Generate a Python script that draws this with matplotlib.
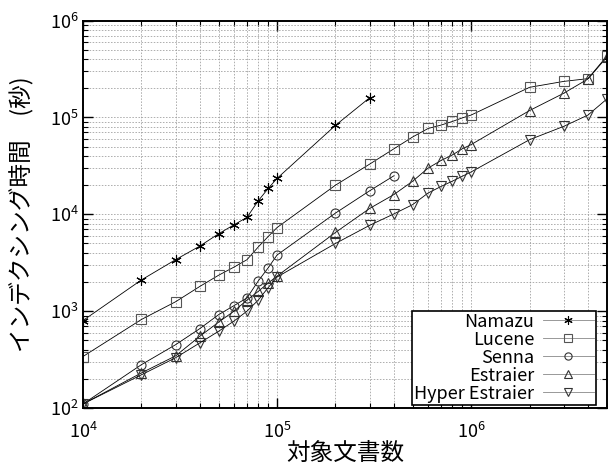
import matplotlib
matplotlib.use("Agg")
import matplotlib.pyplot as plt
import matplotlib.ticker as mticker
import numpy as np

plt.rcParams['font.family'] = ['Noto Sans CJK JP', 'DejaVu Sans']
plt.rcParams['mathtext.fontset'] = 'custom'
plt.rcParams['mathtext.rm'] = 'Noto Sans CJK JP'
plt.rcParams['mathtext.it'] = 'Noto Sans CJK JP'

# === DATA ===
x_small = [1e4, 2e4, 3e4, 4e4, 5e4, 6e4, 7e4, 8e4, 9e4, 1e5]
x_mid = [2e5, 3e5, 4e5, 5e5, 6e5, 7e5, 8e5, 9e5, 1e6]
x_big = [2e6, 3e6, 4e6, 5e6]

namazu_x = x_small + [2e5, 3e5]
namazu_y = [800, 2100, 3400, 4700, 6300, 7800, 9300, 13800, 18500, 23500,
            83000, 160000]

lucene_x = x_small + x_mid + x_big
lucene_y = [340, 820, 1250, 1800, 2350, 2850, 3400, 4600, 5900, 7300,
            20000, 33000, 47500, 63000, 77000, 83500, 91000, 99000, 106000,
            205000, 236000, 252000, 430000]

senna_x = x_small + [2e5, 3e5, 4e5]
senna_y = [110, 280, 450, 660, 920, 1140, 1370, 2050, 2800, 3800,
           10300, 17500, 25000]

estraier_x = x_small + x_mid + x_big
estraier_y = [110, 230, 345, 550, 770, 1000, 1300, 1600, 1950, 2300,
              6500, 11500, 16000, 22000, 30000, 36000, 41000, 47500, 52500,
              118000, 178000, 250000, 420000]

hyper_x = x_small + x_mid + x_big
hyper_y = [110, 220, 330, 470, 620, 790, 1000, 1300, 1750, 2250,
           5000, 7700, 10100, 12600, 16600, 19400, 22000, 24700, 27400,
           59000, 81000, 106000, 155000]

labels = ["Namazu", "Lucene", "Senna", "Estraier", "Hyper Estraier"]
xlabel = "対象文書数"
ylabel = "インデクシング時間　(秒)"

# === FIGURE ===
fig = plt.figure(figsize=(6.08, 4.70), dpi=100)
ax = fig.add_axes([0.1365, 0.132, 0.8615, 0.824])

series = [
    (namazu_x, namazu_y, (6, 2, 0), "black", 7.5),
    (lucene_x, lucene_y, "s", "#555555", 6.5),
    (senna_x, senna_y, "o", "#333333", 6.5),
    (estraier_x, estraier_y, "^", "#333333", 7),
    (hyper_x, hyper_y, "v", "#333333", 7),
]
for (xs, ys, mk, mc, ms), lab in zip(series, labels):
    ax.plot(xs, ys, color="black", lw=0.6, marker=mk, ms=ms,
            mfc="none", mec=mc, mew=0.8, label=lab)

ax.set_xscale("log")
ax.set_yscale("log")
ax.set_xlim(1e4, 5e6)
ax.set_ylim(1e2, 1e6)

ax.xaxis.set_major_locator(mticker.FixedLocator([1e4, 1e5, 1e6]))
ax.xaxis.set_major_formatter(mticker.FixedFormatter(["$10^{4}$", "$10^{5}$", "$10^{6}$"]))
ax.xaxis.set_minor_locator(mticker.LogLocator(base=10, subs=np.arange(2, 10)))
ax.xaxis.set_minor_formatter(mticker.NullFormatter())
ax.yaxis.set_major_locator(mticker.FixedLocator([1e2, 1e3, 1e4, 1e5, 1e6]))
ax.yaxis.set_major_formatter(mticker.FixedFormatter(
    ["$10^{2}$", "$10^{3}$", "$10^{4}$", "$10^{5}$", "$10^{6}$"]))
ax.yaxis.set_minor_locator(mticker.LogLocator(base=10, subs=np.arange(2, 10)))
ax.yaxis.set_minor_formatter(mticker.NullFormatter())

ax.grid(True, which="both", color="#999999", lw=0.55, linestyle=(0, (2, 2)))
ax.set_axisbelow(True)

ax.tick_params(which="both", direction="in", top=True, right=True,
               color="black", labelsize=13)
ax.tick_params(which="major", length=7, width=1.0)
ax.tick_params(which="minor", length=3.5, width=0.8)
ax.tick_params(axis="x", pad=10)
ax.tick_params(axis="y", pad=3)
for sp in ax.spines.values():
    sp.set_linewidth(1.4)

ax.set_xlabel(xlabel, fontsize=17, labelpad=0)
ax.set_ylabel(ylabel, fontsize=17, labelpad=11)

leg = ax.legend(loc="lower right", bbox_to_anchor=(0.979, 0.008),
                markerfirst=False, fontsize=13, markerscale=0.8,
                frameon=True, fancybox=False, edgecolor="black",
                framealpha=1, handlelength=2.8, handletextpad=0.5,
                labelspacing=0.0, borderpad=0.12, borderaxespad=0)
leg.get_frame().set_linewidth(1.2)
for ln in leg.get_lines():
    ln.set_color("#888888")

fig.savefig("out.png", dpi=100)
